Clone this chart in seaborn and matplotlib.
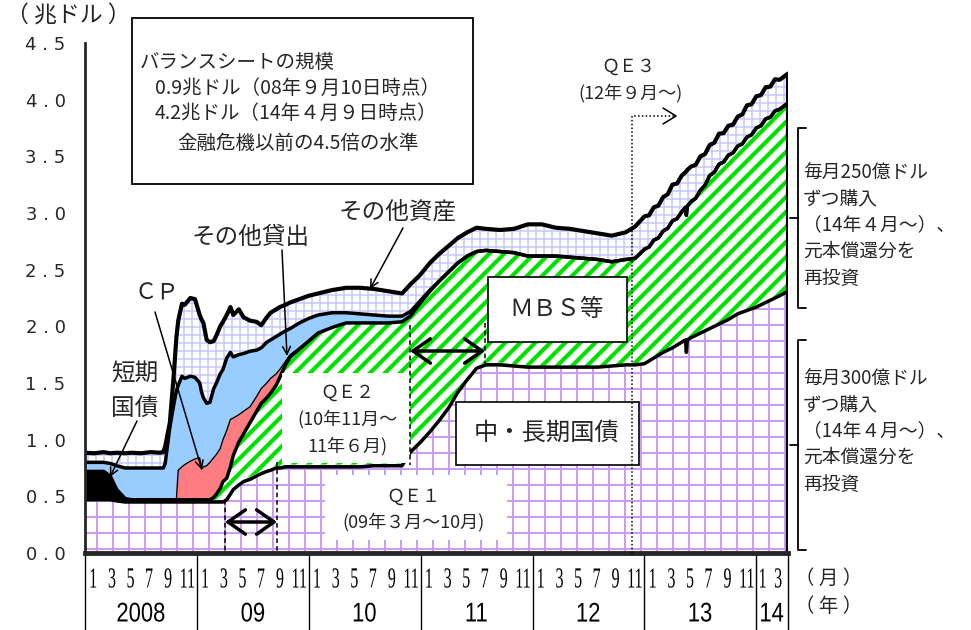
import matplotlib
matplotlib.use("Agg")
import matplotlib.pyplot as plt
import matplotlib.transforms as mtransforms
import numpy as np
import seaborn as sns
from matplotlib.collections import LineCollection
from matplotlib.font_manager import FontProperties
from matplotlib.patches import PathPatch, Rectangle
from matplotlib.textpath import TextPath

# Fed balance sheet, trillion USD; x = months since Jan 2008
months = [0, 1, 2, 2.7, 3.4, 4.3, 5, 6, 7, 8, 8.4, 8.6, 9.1, 9.5, 9.8, 10.0,
          10.4, 10.7, 11.3, 11.8, 12.3, 12.5, 12.7, 13.05, 13.4, 13.8, 14.1,
          14.5, 14.8, 15.2, 15.6, 15.9, 16.5, 17.0, 17.7, 18.4, 18.9, 19.5,
          19.9, 20.5, 20.9, 21.5, 22.0, 23.0, 24.0, 25.0, 26.5, 28.0, 29.5,
          31.0, 32.5, 34.0, 34.9, 35.9, 37.0, 38.0, 39.0, 40.0, 41.0, 42.0,
          43.0, 44.5, 46.0, 47.5, 49.0, 50.5, 52.0, 53.5, 55.0, 56.5, 58.0,
          59.0, 60.0, 60.5, 61.0, 61.5, 62.0, 62.5, 63.0, 63.5, 64.0, 64.4,
          64.5, 64.6, 65.0, 65.5, 66.0, 66.5, 67.0, 67.5, 68.0, 68.5, 69.0,
          69.5, 70.0, 70.5, 71.0, 71.5, 72.0, 72.5, 73.0, 73.5, 74.0, 74.5,
          75.4]
treasury = [.47, .47, .47, .47, .46, .45, .45, .45, .45, .45, .45, .45, .45,
            .45, .45, .45, .45, .45, .45, .45, .45, .45, .45, .45, .45, .45,
            .45, .45, .45, .47, .52, .56, .60, .63, .65, .68, .70, .72, .73,
            .75, .75, .76, .76, .76, .76, .76, .76, .76, .76, .77, .77, .77,
            .89, .97, 1.07, 1.17, 1.28, 1.42, 1.53, 1.63, 1.66, 1.66, 1.65,
            1.64, 1.64, 1.64, 1.64, 1.64, 1.64, 1.65, 1.66,
            1.66, 1.67, 1.695, 1.72, 1.745, 1.77, 1.79, 1.81, 1.835, 1.86,
            1.88, 1.77, 1.88, 1.90, 1.92, 1.94, 1.96, 1.98, 2.00, 2.02, 2.04,
            2.06, 2.085, 2.11, 2.125, 2.14, 2.155, 2.17, 2.19, 2.21, 2.23,
            2.25, 2.27, 2.31]
bills = [.25, .25, .25, .21, .10, .03] + [.02] * 57 + [0] * 42
mbs = [0] * 25 + [.02, .05, .10, .16, .17, .22, .28, .36, .40, .48, .55, .60,
       .63, .66, .71, .78, .88, .95, 1.02, 1.09, 1.16, 1.21, 1.25, 1.25,
       1.24, 1.24, 1.25, 1.18, 1.21, 1.22, 1.21, 1.18, 1.12, 1.07, 1.01, .99,
       .98, .98, .98, .98, .98, .97, .96, .95, .92, .93,
       .94, 1.01, 1.005, 1.04, 1.035, 1.07, 1.075, 1.12, 1.115, 1.15, 1.17,
       1.21, 1.18, 1.20, 1.21, 1.26, 1.285, 1.35, 1.36, 1.41, 1.41, 1.45,
       1.445, 1.48, 1.485, 1.53, 1.535, 1.58, 1.58, 1.62, 1.615, 1.65, 1.645,
       1.66]
cp = [0] * 15 + [.26, .29, .31, .34, .36, .37, .27, .29, .30, .33, .35, .35,
     .35, .37, .42, .42, .33, .24, .20, .14, .13, .13, .13, .13, .10, .07,
     .03, .02, .01, .01, .01] + [0] * 59
loans = [.08, .08, .08, .11, .21, .27, .28, .28, .28, .28, .28, .32, .64, .83,
         .96, .75, .80, .76, .75, .72, .66, .68, .61, .55, .53, .61, .63, .66,
         .62, .64, .59, .54, .53, .51, .49, .41, .36, .36, .34, .33, .31, .27,
         .23, .22, .19, .15, .13, .09, .08, .07, .06, .05, .04, .02,
         .01] + [0] * 50
other = [.085, .08, .09, .09, .115, .13, .135, .13, .14, .135, .14, .15, .04,
         .25, .47, .57, .64, .65, .69, .69, .60, .64, .66, .56, .53, .42, .42,
         .42, .42, .38, .40, .37, .40, .32, .27, .25, .20, .22, .24, .24, .24,
         .23, .23, .21, .20, .19, .20, .22, .23, .23, .22, .20, .24, .23, .24,
         .24, .23, .22, .21, .21, .19, .19, .21, .28, .28, .25, .25, .24, .23,
         .23, .24,
         .28, .29, .28, .29, .285, .30, .30, .32, .31, .32, .31, .39, .32,
         .31, .295, .30, .275, .27, .26, .27, .255, .26, .25, .26, .26, .28,
         .27, .28, .27, .28, .27, .28, .26, .26]

month_labels = ["1", "3", "5", "7", "9", "11"]
year_labels = ["2008", "09", "10", "11", "12", "13", "14"]
year_starts = [0, 12, 24, 36, 48, 60, 72, 75.4]

M_END = 75.4
PX_M = 703 / M_END      # pixels per month
PX_V = 510 / 4.5        # pixels per trillion
JP = ["Noto Sans CJK JP", "DejaVu Sans"]


def at(xp, yp):
    """Reference-pixel position -> data coordinates (for annotations)."""
    return (xp - 85) / PX_M, (553 - yp) / PX_V


sns.set_style("white")
plt.rcParams["font.family"] = JP

fig = plt.figure(figsize=(9.71, 6.30), dpi=100)
ax = fig.add_axes([85 / 971, 77 / 630, 703 / 971, 510 / 630])

x = np.array(months)
t1 = np.array(treasury)
t2 = t1 + np.array(bills)
t3 = t2 + np.array(mbs)
t4 = t3 + np.array(cp)
t5 = t4 + np.array(loans)
t6 = t5 + np.array(other)


def grid_segments(step_px, off_m=0.0, off_v=0.0):
    dm, dv = step_px / PX_M, step_px / PX_V
    segs = [[(m, 0), (m, 4.5)] for m in np.arange(off_m, M_END, dm)]
    segs += [[(0, v), (M_END, v)] for v in np.arange(off_v, 4.5, dv)]
    return segs


def stripe_segments(step_px):
    slope = PX_M / PX_V
    span = 4.5 / slope
    return [[(c, 0), (c + span, 4.5)] for c in np.arange(-span, M_END, step_px / PX_M)]


def pattern_fill(lo, hi, segs, color, lw):
    poly = ax.fill_between(x, lo, hi, facecolor="white", lw=0, zorder=1)
    lc = LineCollection(segs, colors=color, linewidths=lw, zorder=1.1)
    ax.add_collection(lc, autolim=False)
    lc.set_clip_path(poly.get_paths()[0], ax.transData)


pattern_fill(0, t1, grid_segments(16, 1.25, 0.035), "#c79cf4", 1.4)
ax.fill_between(x, t1, t2, color="black", lw=0, zorder=1)
pattern_fill(t2, t3, stripe_segments(15), "#00e000", 3.0)
ax.fill_between(x, t3, t4, color="#ff7c80", lw=0, zorder=1)
ax.fill_between(x, t4, t5, color="#99ccff", lw=0, zorder=1)
pattern_fill(t5, t6, grid_segments(8, 0.3, 0.02), "#c6c6fb", 1.1)

sns.lineplot(x=x, y=t4, ax=ax, color="black", lw=1, estimator=None, sort=False, zorder=2)
for top, lw in [(t3, 2.5), (t5, 2.5), (t1, 2.5), (t6, 3)]:
    sns.lineplot(x=x, y=top, ax=ax, color="black", lw=lw, estimator=None,
                 sort=False, zorder=2)
ax.plot([x[-1], x[-1]], [0, t6[-1]], color="black", lw=3, zorder=2)

ax.set_xlim(0, M_END)
ax.set_ylim(0, 4.5)
ax.set_xticks([])
yt = np.arange(0, 4.51, 0.5)
ax.set_yticks(yt)
ax.set_yticklabels([f"{v:.1f}".replace(".", " . ") for v in yt],
                   family="DejaVu Sans", fontsize=13)
ax.tick_params(axis="y", direction="in", length=5, width=1.5, pad=14)
for side in ["top", "right"]:
    ax.spines[side].set_visible(False)
ax.spines["left"].set_linewidth(2)
ax.spines["bottom"].set_linewidth(3.5)
ax.spines["bottom"].set_zorder(3)
ax.set_xlabel("")
ax.set_ylabel("")

# month / year table under the axis
xa = ax.get_xaxis_transform()
for m in year_starts:
    ax.plot([m, m], [0, -0.16], color="black", lw=1, transform=xa, clip_on=False)


def squeezed(xd, ya, s, family, size, sx, sy):
    tp = TextPath((0, 0), s, size=size, prop=FontProperties(family=family))
    bb = tp.get_extents()
    tr = (mtransforms.Affine2D().translate(-(bb.x0 + bb.x1) / 2, -(bb.y0 + bb.y1) / 2)
          .scale(sx, sy) + mtransforms.ScaledTranslation(xd, ya, xa))
    fig.add_artist(PathPatch(tp, transform=tr, facecolor="black", lw=0))


for yi in range(6):
    for lab in month_labels:
        k = int(lab)
        squeezed(12 * yi + k - (0.0 if k == 11 else 0.1), -0.049, lab,
                 "Liberation Serif", 20, 0.8, 1.45)
squeezed(72.7, -0.049, "1", "Liberation Serif", 20, 0.8, 1.45)
squeezed(74.35, -0.049, "3", "Liberation Serif", 20, 0.8, 1.45)
for lab, a, b in zip(year_labels, year_starts[:-1], year_starts[1:]):
    squeezed((a + b) / 2, -0.116, lab, "Liberation Sans", 20, 1.1, 1.35)


def label(xp, yp, s, size, ha="center", va="center"):
    xd, yd = at(xp, yp)
    ax.text(xd, yd, s, fontsize=size, ha=ha, va=va, family=JP,
            clip_on=False, zorder=6)


def box(x0, y0, x1, y1, edge=None, lw=1.2, z=3):
    a0, b0 = at(x0, y1)
    a1, b1 = at(x1, y0)
    ax.add_patch(Rectangle((a0, b0), a1 - a0, b1 - b0, facecolor="white",
                           edgecolor=edge or "none", lw=lw if edge else 0,
                           zorder=z, clip_on=False))


def seg(pts, **kw):
    xs, ys = zip(*[at(p, q) for p, q in pts])
    ax.plot(xs, ys, clip_on=False, **kw)


def arrow(tail, head, style="->", lw=1.1, ms=14):
    ax.annotate("", xy=at(*head), xytext=at(*tail),
                arrowprops=dict(arrowstyle=style, lw=lw, color="black",
                                shrinkA=0, shrinkB=0, mutation_scale=ms),
                zorder=6, annotation_clip=False)


label(795, 578, "（ 月 ）", 14, ha="left")
label(795, 607, "（ 年 ）", 14, ha="left")
label(68, 16, "（ 兆ドル ）", 16.5)

# summary box
box(132, 18, 473, 184, edge="black", lw=1.3)
label(140, 62, "バランスシートの規模", 14, ha="left")
label(155, 88, "0.9兆ドル（08年９月10日時点）", 14, ha="left")
label(155, 113, "4.2兆ドル（14年４月９日時点）", 14, ha="left")
label(177, 143, "金融危機以前の4.5倍の水準", 14, ha="left")

# QE windows
box(282, 373, 410, 463)
label(347, 393, "ＱＥ２", 13)
label(347, 419, "(10年11月～", 13)
label(347, 446, "11年６月)", 13)
box(325, 475, 507, 540)
label(413, 497, "ＱＥ１", 13)
label(413, 522, "(09年３月～10月)", 13)
label(628, 67, "ＱＥ３", 13)
label(630, 93, "(12年９月～)", 13)

box(488, 277, 627, 342, edge="black")
label(557, 309, "ＭＢＳ等", 17)
box(456, 402, 639, 465, edge="black")
label(547, 433, "中・長期国債", 17.5)

dash = dict(color="black", lw=1.1, ls=(0, (3, 2)), zorder=5)
seg([(225, 500), (225, 553)], **dash)
seg([(277, 462), (277, 553)], **dash)
seg([(410, 325), (410, 465)], **dash)
seg([(485, 323), (485, 365)], **dash)
seg([(632, 553), (632, 116), (674, 116)], color="black", lw=1.1,
    ls=(0, (1, 1.5)), zorder=5)
seg([(663, 108), (676, 116), (663, 124)], color="black", lw=1.1, zorder=5)
arrow((225, 522), (277, 522), style="<->,head_length=0.5,head_width=0.35", lw=2.5, ms=25)
arrow((410, 351), (485, 351), style="<->,head_length=0.5,head_width=0.35", lw=2.5, ms=25)

# component labels
label(398, 212, "その他資産", 17)
arrow((403, 228), (370, 289))
label(251, 238, "その他貸出", 17)
arrow((282, 250), (287, 356))
label(157, 293, "ＣＰ", 16)
arrow((155, 312), (202, 470))
label(135, 374, "短期", 17)
label(135, 408, "国債", 17)
arrow((137, 421), (110, 477))

# right-hand brackets
for top, bot, mid in [(128, 308, 218), (340, 550, 445)]:
    seg([(806, top), (798, top), (798, bot), (806, bot)], color="black", lw=1.3)
    seg([(790, mid), (798, mid)], color="black", lw=1.3)
for y0, amount in [(172, "250"), (378, "300")]:
    lines = [f"毎月{amount}億ドル", "ずつ購入", "（14年４月～）、", "元本償還分を", "再投資"]
    for i, s in enumerate(lines):
        label(803, y0 + 26.5 * i, s, 13.5, ha="left")

fig.savefig("out.png", dpi=100)
